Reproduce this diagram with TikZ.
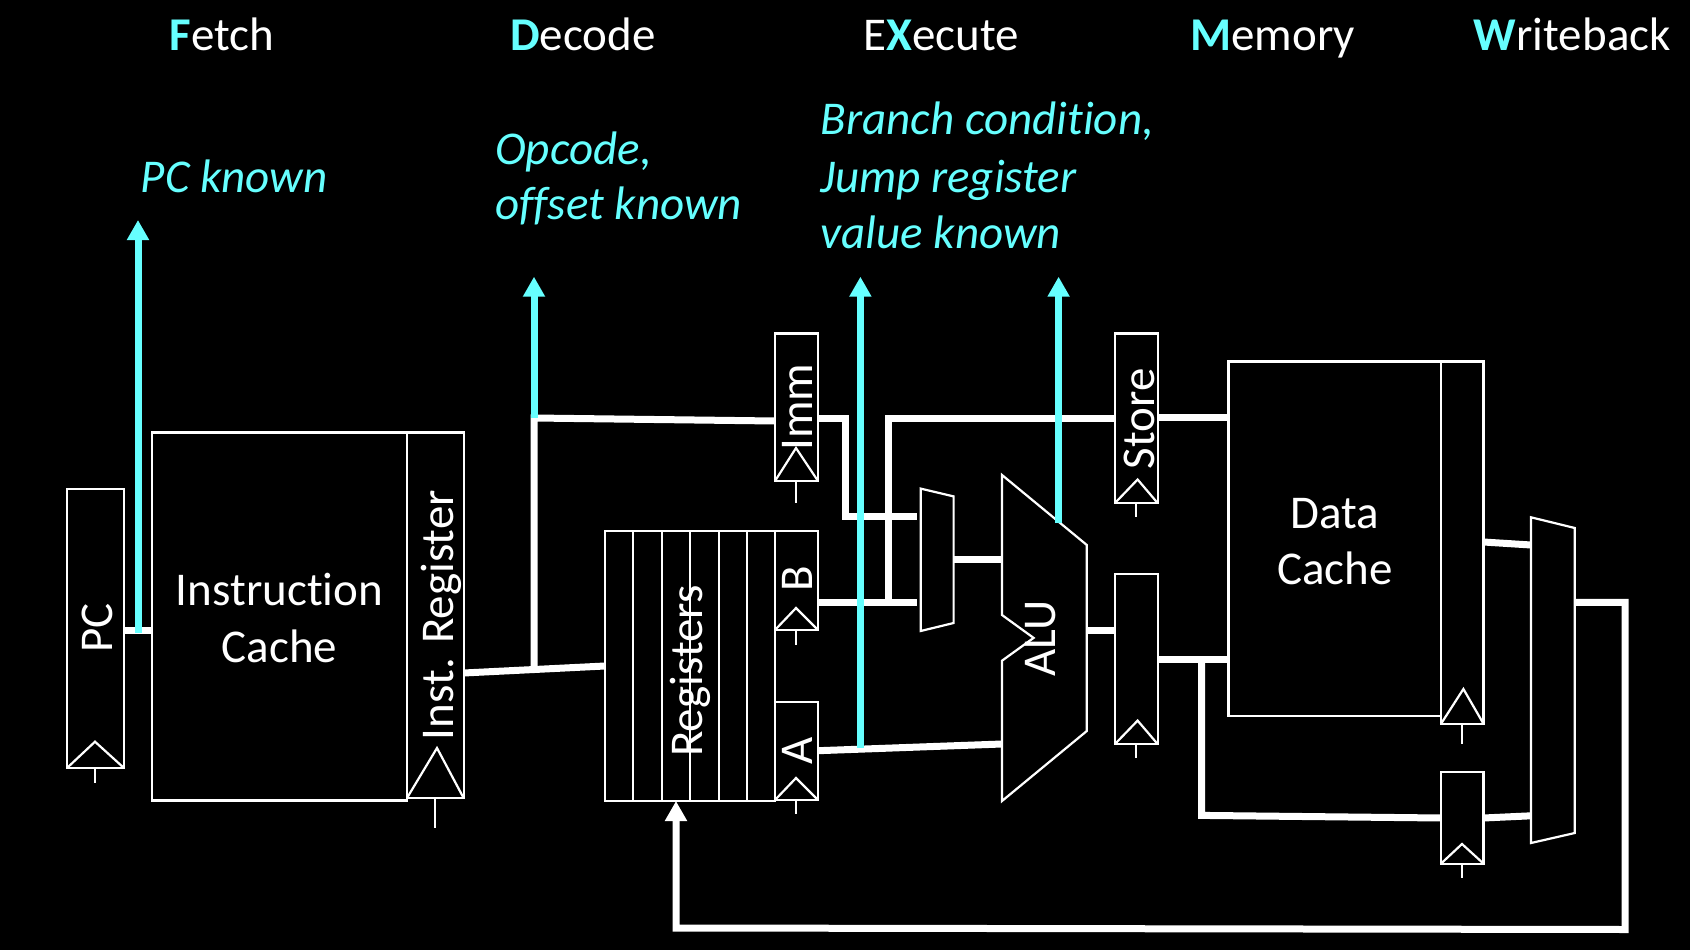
\documentclass[tikz,border=0pt]{standalone}
\usepackage{fontspec}
\setmainfont[RawFeature={-liga;-dlig;-clig}]{Carlito}
\usetikzlibrary{arrows.meta}
\definecolor{cy}{HTML}{66FFFF}
\tikzset{
  box/.style={draw=white,line width=2.2pt,fill=black,inner sep=0pt,outer sep=0pt,anchor=north west},
  thinln/.style={draw=white,line width=2.2pt},
  shp/.style={draw=white,line width=2.2pt,fill=black,line join=miter},
  wire/.style={draw=white,line width=7pt,line cap=butt,line join=miter},
  know/.style={draw=cy,line width=7pt,-{Triangle[length=20pt,width=21pt]}},
  backw/.style={draw=white,line width=7pt,line join=miter,-{Triangle[length=20pt,width=21pt]}},
  lab/.style={text=white,font=\fontsize{47}{57}\selectfont,inner sep=0pt,align=center,anchor=base},
  side/.style={text=white,font=\fontsize{47}{57}\selectfont,inner sep=0pt,rotate=90,anchor=base},
  head/.style={text=white,font=\fontsize{47}{57}\selectfont,inner sep=0pt,anchor=base west},
  note/.style={text=cy,font=\fontsize{47}{57}\itshape\selectfont,inner sep=0pt,anchor=base west},
}
\newcommand{\hl}[1]{\textcolor{cy}{\textbf{#1}}}
\newcommand{\rbox}[5]{\node[box,minimum width={(#4-#2)*1pt},minimum height={(#5-#3)*1pt}] (#1) at (#2,#3) {};}
\newcommand{\clk}[5]{\draw[thinln,line join=miter] (#1.south west) -- (#2,#3) -- (#1.south east);
  \draw[thinln] (#1.south -| #4,0) -- (#4,#5);}
\begin{document}
\begin{tikzpicture}[x=1pt,y=-1pt]
\useasboundingbox[fill=black] (0,0) rectangle (1690,950);
% blocks
\rbox{pc}{67}{489}{124}{768}
\rbox{ic}{152}{432.5}{407}{800.5}
\rbox{ir}{407}{432.5}{463.6}{798}
\rbox{imm}{775}{333.5}{818}{481}
\rbox{regs}{605}{531}{775}{801}
\rbox{bb}{775}{531}{818}{630}
\rbox{ab}{775}{702}{818}{800}
\rbox{store}{1115}{333.5}{1157.6}{503}
\rbox{ex}{1115}{574}{1157.6}{744}
\rbox{dc}{1228.5}{361.5}{1441}{715.7}
\rbox{mr}{1441}{361.5}{1483.5}{723.8}
\rbox{wr}{1441}{772}{1483.5}{863.6}
\foreach \dx in {633,662,690,718.6,747}
  \draw[thinln] (regs.north -| \dx,0) -- (regs.south -| \dx,0);
\clk{pc}{95}{741.7}{95}{783}
\clk{ir}{437}{748}{435}{828}
\clk{imm}{796}{448}{796}{502.5}
\clk{bb}{796}{608}{796}{644.6}
\clk{ab}{796}{778}{796}{814}
\clk{store}{1137.6}{479.5}{1136}{517}
\clk{ex}{1137.6}{720.6}{1136}{758}
\clk{mr}{1463.4}{689}{1462}{744}
\clk{wr}{1462}{844}{1462}{877.7}
% muxes and ALU
\coordinate (m1a) at (920.7,516.8);
\coordinate (m1b) at (920.7,602.5);
\coordinate (m1o) at (953.6,559.6);
\coordinate (alub) at (1002,559.6);
\coordinate (alua) at (1002,744);
\coordinate (aluo) at (1086.8,630.7);
\coordinate (m2a) at (1531,545);
\coordinate (m2b) at (1531,815.8);
\coordinate (m2o) at (1574.8,602.4);
\draw[shp] (920.7,488.6) -- (953.6,496.4) -- (953.6,623) -- (920.7,631) -- cycle;
\draw[shp] (1002,475) -- (1086.8,545) -- (1086.8,731) -- (1002,801) -- (1002,660.7) -- (1033.6,637.9) -- (1002,615) -- cycle;
\draw[shp] (1531,517.3) -- (1574.8,528) -- (1574.8,833) -- (1531,843) -- cycle;
% wires
\coordinate (dj) at (534,418);
\coordinate (dk) at (534,671);
\coordinate (sj) at (888.6,602.5);
\coordinate (sk) at (888.6,418);
\coordinate (imc) at (845.7,418.6);
\coordinate (imd) at (845.7,516.8);
\coordinate (bj) at (1201.5,659.5);
\coordinate (bk) at (1201.5,815.4);
\coordinate (ov) at (1625,602.4);
\coordinate (ow) at (1625,929.5);
\coordinate (ox) at (676,928);
\draw[wire] (pc.east |- 0,630) -- (ic.west |- 0,630);
\draw[wire] (ir.east |- 0,673) -- (regs.west |- 0,666);
\draw[wire] (dk) -- (dj) -- (imm.west |- 0,421);
\draw[wire] (imm.east |- 0,418.6) -- (imc) -- (imd) -- (917,516.8);
\draw[wire] (bb.east |- m1b) -- (917,602.5);
\draw[wire] (sj) -- (sk) -- (store.west |- sk);
\draw[wire] (m1o) -- (alub);
\draw[wire] (ab.east |- 0,750.7) -- (alua);
\draw[wire] (aluo) -- (ex.west |- aluo);
\draw[wire] (store.east |- 0,417.6) -- (dc.west |- 0,417.6);
\draw[wire] (ex.east |- bj) -- (dc.west |- bj);
\draw[wire] (bj) -- (bk) -- (wr.west |- 0,818);
\draw[wire] (wr.east |- 0,818) -- (m2b);
\draw[wire] (mr.east |- 0,542) -- (m2a);
\draw[backw] (m2o) -- (ov) -- (ow) -- (ox) -- (regs.south -| ox);
% known arrows
\coordinate (k1) at (138,633);
\coordinate (k1t) at (138,220);
\coordinate (k2t) at (534,276.7);
\coordinate (k3) at (860.4,748);
\coordinate (k3t) at (860.4,276.7);
\coordinate (k4) at (1058.6,523);
\coordinate (k4t) at (1058.6,276.7);
\draw[know] (k1) -- (k1t);
\draw[know] (dj) -- (k2t);
\draw[know] (k3) -- (k3t);
\draw[know] (k4) -- (k4t);
% block labels
\node[side] (tpc) at (112.5,628) {PC};
\node[side] (tir) at (453.5,615) {Inst. Register};
\node[side] (treg) at (702.5,671) {Registers};
\node[side] (timm) at (812.9,407) {Imm};
\node[side] (tb) at (812.9,579) {B};
\node[side] (ta) at (812.9,751) {A};
\node[side] (talu) at (1055,638.5) {ALU};
\node[side] (tst) at (1154.5,419) {Store};
\node[lab] (tic1) at (279.5,605.5) {Instruction};
\node[lab] (tic2) at (279.5,662) {Cache};
\node[lab] (tdc1) at (1335,528) {Data};
\node[lab] (tdc2) at (1335,584.5) {Cache};
% headers
\node[head] (hf) at (169.5,50.2) {\hl{F}etch};
\node[head] (hd) at (510,50.2) {\hl{D}ecode};
\node[head] (hx) at (863.5,50.2) {E\hl{X}ecute};
\node[head] (hm) at (1190,50.2) {\hl{M}emory};
\node[head] (hw) at (1473.7,50.2) {\hl{W}riteback};
% notes
\node[note] (n1) at (140.5,192) {PC known};
\node[note] (n2a) at (495,164) {Opcode,};
\node[note] (n2b) at (495,219.8) {offset known};
\node[note] (n3a) at (820.5,134.5) {Branch condition,};
\node[note] (n3b) at (820,192) {Jump register};
\node[note] (n3c) at (820.5,248.5) {value known};
\end{tikzpicture}
\end{document}
